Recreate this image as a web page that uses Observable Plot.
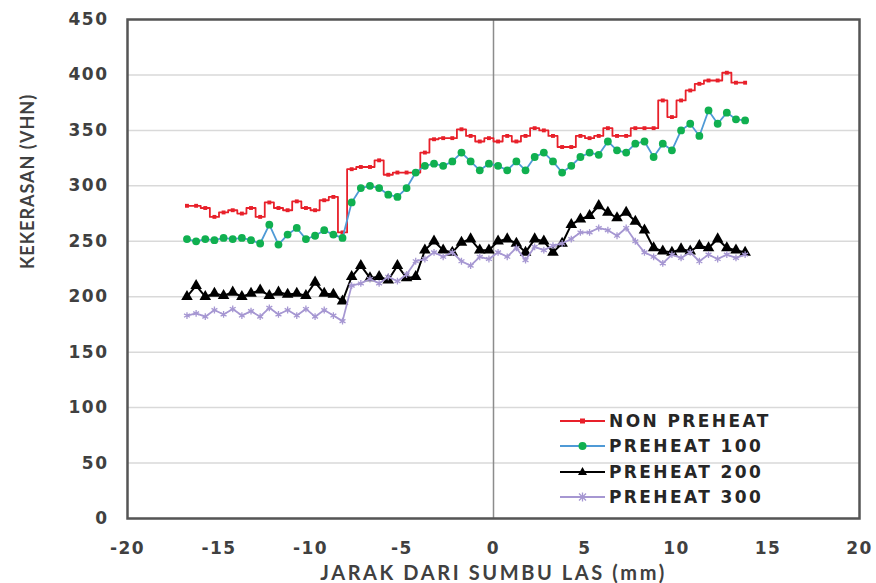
<!DOCTYPE html>
<html><head><meta charset="utf-8">
<script src="https://cdn.jsdelivr.net/npm/d3@7"></script>
<script src="https://cdn.jsdelivr.net/npm/@observablehq/plot@0.6"></script>
<style>
body{margin:0;background:#fff;}
#wrap{position:relative;width:876px;height:583px;}
#wrap svg [aria-label="y-axis tick label"], #wrap svg [aria-label="x-axis tick label"]{letter-spacing:1.5px;}
#wrap svg .xtitle{letter-spacing:2.6px;}
#wrap svg .ytitle{letter-spacing:1px;}
#legend{position:absolute;left:560px;top:408px;font-family:"DejaVu Sans",sans-serif;font-weight:bold;font-size:17px;color:#262626;letter-spacing:2.4px;}
.row{display:flex;align-items:center;height:25.5px;}
.row svg{margin-right:4px;}
</style></head><body><div id="wrap"></div>
<script>
const xs = [-16.75,-16.25,-15.75,-15.25,-14.75,-14.25,-13.75,-13.25,-12.75,-12.25,-11.75,-11.25,-10.75,-10.25,-9.75,-9.25,-8.75,-8.25,-7.75,-7.25,-6.75,-6.25,-5.75,-5.25,-4.75,-4.25,-3.75,-3.25,-2.75,-2.25,-1.75,-1.25,-0.75,-0.25,0.25,0.75,1.25,1.75,2.25,2.75,3.25,3.75,4.25,4.75,5.25,5.75,6.25,6.75,7.25,7.75,8.25,8.75,9.25,9.75,10.25,10.75,11.25,11.75,12.25,12.75,13.25,13.75];
const nonPreheat = [282,282,280,272,276,278,275,280,272,285,280,278,286,280,278,287,290,258,315,317,317,323,310,312,312,312,330,342,343,343,351,345,340,343,340,345,340,345,352,350,345,335,335,345,343,345,352,345,345,352,352,352,377,362,377,386,392,395,395,402,393,393];
const preheat100 = [252,250,252,251,253,252,253,251,248,265,247,256,262,252,255,260,256,253,285,298,300,298,292,290,298,312,318,320,318,322,330,322,314,320,318,314,322,314,326,330,322,312,318,326,330,328,340,332,330,338,340,326,338,332,350,356,345,368,356,366,360,359];
const preheat200 = [200,210,200,203,201,204,200,203,206,201,204,202,203,201,213,203,202,196,218,228,217,218,215,228,217,218,242,250,242,240,249,252,242,242,250,252,248,240,252,250,240,248,265,270,273,282,276,271,276,268,260,244,241,240,243,241,246,244,252,244,242,240];
const preheat300 = [183,185,182,188,184,189,183,187,182,190,184,188,183,189,182,188,183,178,210,212,216,212,218,214,220,232,234,240,236,240,232,228,236,234,240,236,244,233,245,242,246,248,252,258,258,262,260,255,262,250,240,236,230,238,235,240,232,238,234,238,235,238];
const seriesNames = ["NON PREHEAT","PREHEAT 100","PREHEAT 200","PREHEAT 300"];
const xTicks = [-20,-15,-10,-5,0,5,10,15,20];
const yTicks = [0,50,100,150,200,250,300,350,400,450];
const xTitle = "JARAK DARI SUMBU LAS (mm)";
const yTitle = "KEKERASAN (VHN)";

const styles = [
  {values: nonPreheat, line:"#e8202a", mark:"#e8202a", symbol:"square", r:2.2, curve:"step", sw:1.8},
  {values: preheat100, line:"#4f9ad6", mark:"#10b050", symbol:"circle", r:3.9, curve:"linear", sw:1.8},
  {values: preheat200, line:"#000000", mark:"#000000", symbol:"triangle", r:4.3, curve:"linear", sw:2},
  {values: preheat300, line:"#a697d2", mark:"#a697d2", symbol:"asterisk", r:3.2, curve:"linear", sw:1.8}
];

const marks = [
  Plot.gridY(yTicks, {stroke:"#d9d9d9", strokeOpacity:1, strokeWidth:1.5}),
  Plot.ruleX([0], {stroke:"#8c8c8c", strokeWidth:1.5}),
];
styles.forEach((s, k) => {
  const data = xs.map((x, i) => ({x, y: s.values[i], name: seriesNames[k]}));
  marks.push(Plot.line(data, {x:"x", y:"y", stroke: s.line, strokeWidth: s.sw, curve: s.curve}));
  if (s.symbol === "asterisk") {
    marks.push(Plot.dot(data, {x:"x", y:"y", symbol: s.symbol, stroke: s.mark, strokeWidth:1.3, r: s.r}));
  } else {
    marks.push(Plot.dot(data, {x:"x", y:"y", symbol: s.symbol, fill: s.mark, stroke:"none", r: s.r}));
  }
});
marks.push(
  Plot.frame({stroke:"#555555", strokeWidth:2.5}),
  Plot.axisX(xTicks, {tickSize:0, tickPadding:23, fontSize:17, fontWeight:"bold", fill:"#404040", label:null, tickFormat: d => String(d)}),
  Plot.axisY(yTicks, {tickSize:0, tickPadding:19, fontSize:17, fontWeight:"bold", fill:"#404040", label:null, tickFormat: d => String(d)}),
  Plot.text([xTitle], {frameAnchor:"bottom", dy:55, lineAnchor:"middle", fontSize:20, fontWeight:"bold", fill:"#404040", fontFamily:"Lato", className:"xtitle"}),
  Plot.text([yTitle], {frameAnchor:"left", dx:-99, rotate:-90, fontSize:18, fontWeight:"bold", fill:"#404040", fontFamily:"Lato", className:"ytitle"})
);

const chart = Plot.plot({
  width: 876, height: 583,
  marginLeft: 127, marginRight: 17, marginTop: 19, marginBottom: 65,
  x: {domain:[-20,20]},
  y: {domain:[0,450]},
  style: {fontFamily:"'DejaVu Sans', sans-serif", background:"#fff"},
  marks
});
const wrap = document.getElementById("wrap");
wrap.appendChild(chart);

// legend (HTML, over the plot)
const leg = document.createElement("div");
leg.id = "legend";
styles.forEach((s, k) => {
  const row = document.createElement("div");
  row.className = "row";
  let sym;
  if (s.symbol === "square") sym = `<rect x="20" y="8.5" width="5" height="5" fill="${s.mark}"/>`;
  else if (s.symbol === "circle") sym = `<circle cx="22.5" cy="11" r="4" fill="${s.mark}"/>`;
  else if (s.symbol === "triangle") sym = `<path d="M22.5,6 L27,14 L18,14 Z" fill="${s.mark}"/>`;
  else sym = `<path d="M19,7.5L26,14.5M26,7.5L19,14.5M22.5,6.5V15.5" stroke="${s.mark}" stroke-width="1.3"/>`;
  row.innerHTML = `<svg width="45" height="22"><line x1="0" x2="45" y1="11" y2="11" stroke="${s.line}" stroke-width="2"/>${sym}</svg><span>${seriesNames[k]}</span>`;
  leg.appendChild(row);
});
wrap.appendChild(leg);
</script></body></html>
